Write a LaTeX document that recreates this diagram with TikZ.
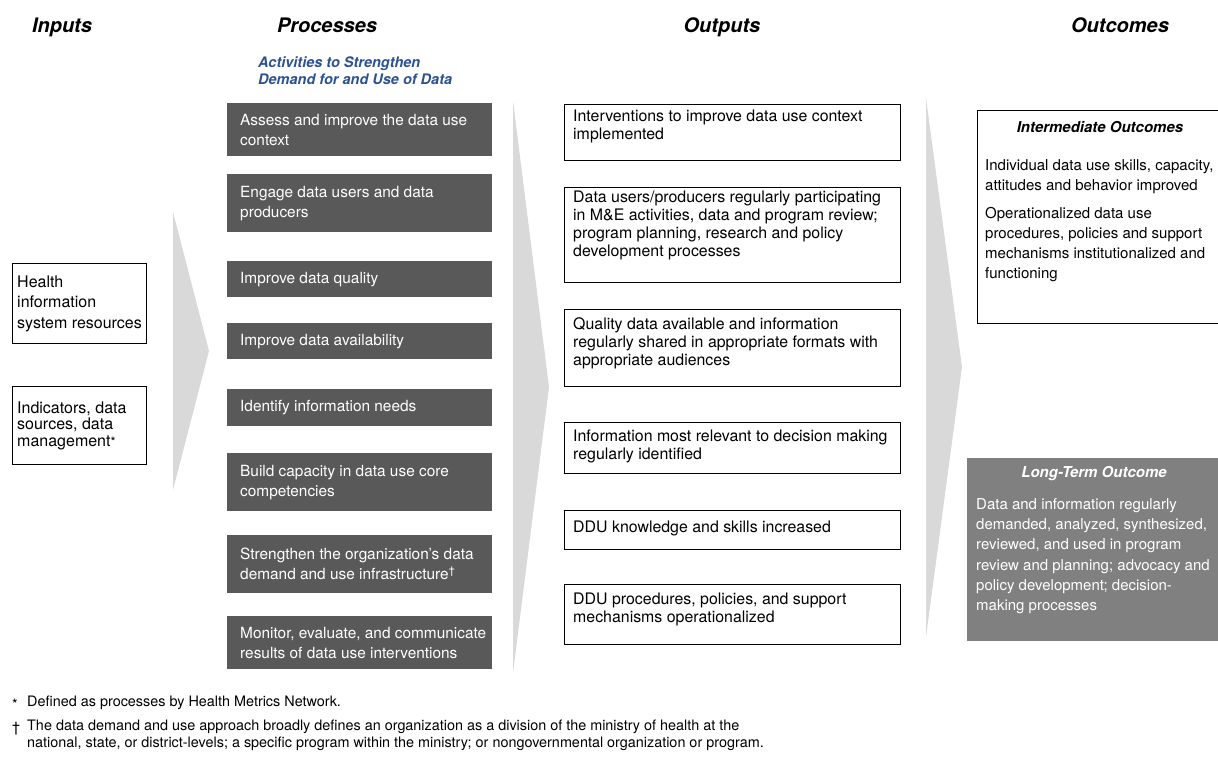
\documentclass[tikz,border=0pt]{standalone}
\usepackage{fontspec}
\setmainfont{TeX Gyre Heros}
\definecolor{procgray}{RGB}{89,89,89}
\definecolor{chevgray}{RGB}{217,217,217}
\definecolor{longgray}{RGB}{128,128,128}
\definecolor{subblue}{RGB}{44,82,146}
\tikzset{
  heading/.style={anchor=base, inner sep=0pt, font=\fontsize{20}{23}\selectfont\bfseries\itshape},
  subtitle/.style={anchor=west, align=left, inner sep=0pt, text=subblue, font=\fontsize{14.5}{17}\selectfont\bfseries\itshape},
  procbox/.style={fill=procgray, anchor=north west, minimum width=265, inner sep=0pt},
  proctext/.style={anchor=west, align=left, inner sep=0pt, text=white, font=\fontsize{15.4}{20}\selectfont},
  outbox/.style={draw, line width=1pt, anchor=north west, minimum width=336, inner sep=0pt},
  outtext/.style={anchor=west, align=left, inner sep=0pt, font=\fontsize{15.9}{18}\selectfont},
  octitle/.style={inner sep=0pt, font=\fontsize{15}{18}\selectfont\bfseries\itshape},
  octext/.style={anchor=west, align=left, inner sep=0pt, font=\fontsize{15}{20.3}\selectfont},
  foot/.style={anchor=west, align=left, inner sep=0pt, font=\fontsize{14.4}{17}\selectfont}
}
\begin{document}
\begin{tikzpicture}[x=1pt, y=-1pt]
\useasboundingbox (0,0) rectangle (1218,757);
\clip (0,0) rectangle (1218,757);

% column headings
\node[heading] (hin) at (62,33) {Inputs};
\node[heading] (hproc) at (327,33) {Processes};
\node[heading] (hout) at (722,33) {Outputs};
\node[heading] (hoc) at (1120,33) {Outcomes};
\node[subtitle] (acts) at (258,71) {Activities to Strengthen\\Demand for and Use of Data};

% big arrows between the columns
\fill[chevgray] (173,212) -- (209,351) -- (173,490) -- cycle;
\fill[chevgray] (513,101) -- (549,387) -- (513,673) -- cycle;
\fill[chevgray] (926,98) -- (962,367) -- (926,637) -- cycle;

% inputs
\node[outbox, minimum width=134, minimum height=80] (hisr) at (12,263) {};
\node[outtext, font=\fontsize{16}{20.5}\selectfont] (hisrtxt) at ([xshift=5pt]hisr.west) {Health\\information\\system resources};
\node[outbox, minimum width=134, minimum height=78] (ind) at (12,386) {};
\node[outtext, font=\fontsize{16}{16.5}\selectfont] (indtxt) at ([xshift=5pt]ind.west) {Indicators, data\\sources, data\\management{\fontsize{13}{13}\selectfont*}};

% processes
\foreach \ty/\hh/\txt [count=\i] in {
  103/53/{Assess and improve the data use\\context},
  174/58/{Engage data users and data\\producers},
  261/36/{Improve data quality},
  323/36/{Improve data availability},
  389/37/{Identify information needs},
  453/58/{Build capacity in data use core\\competencies},
  535/58/{Strengthen the organization's data\\demand and use infrastructure\textsuperscript{\textdagger}},
  616/53/{Monitor, evaluate, and communicate\\results of data use interventions}} {
  \node[procbox, minimum height=\hh] (proc\i) at (227,\ty) {};
  \node[proctext] (ptext\i) at ([xshift=13pt]proc\i.west) {\txt};
}

% outputs
\foreach \ty/\hh/\dy/\txt [count=\i] in {
  104/56/6/{Interventions to improve data use context\\implemented},
  187/95/9.5/{Data users/producers regularly participating\\in M\&E activities, data and program review;\\program planning, research and policy\\development processes},
  309/77/4.5/{Quality data available and information\\regularly shared in appropriate formats with\\appropriate audiences},
  422/51/1.5/{Information most relevant to decision making\\regularly identified},
  510/39/1.5/{DDU knowledge and skills increased},
  584/60/5/{DDU procedures, policies, and support\\mechanisms operationalized}} {
  \node[outbox, minimum height=\hh] (out\i) at (564,\ty) {};
  \node[outtext] (otext\i) at ([xshift=9pt,yshift=\dy]out\i.west) {\txt};
}

% outcomes
\node[outbox, minimum width=250, minimum height=213] (inter) at (977,110) {};
\node[octitle] (intertitle) at (1100,127) {Intermediate Outcomes};
\node[octext] (inter1) at (985,176.5) {Individual data use skills, capacity,\\attitudes and behavior improved};
\node[octext] (inter2) at (985,244.5) {Operationalized data use\\procedures, policies and support\\mechanisms institutionalized and\\functioning};

\node[fill=longgray, anchor=north west, minimum width=260, minimum height=183, inner sep=0pt] (longt) at (967,458) {};
\node[octitle, text=white] (longtitle) at (1094,474) {Long-Term Outcome};
\node[octext, text=white] (longtxt) at (976,556) {Data and information regularly\\demanded, analyzed, synthesized,\\reviewed, and used in program\\review and planning; advocacy and\\policy development; decision-\\making processes};

% footnotes
\node[foot] (fn1mark) at (12,704) {*};
\node[foot] (fn1) at (27,703) {Defined as processes by Health Metrics Network.};
\node[foot] (fn2mark) at (12,729) {\textdagger};
\node[foot] (fn2) at (27,735.5) {The data demand and use approach broadly defines an organization as a division of the ministry of health at the\\national, state, or district-levels; a specific program within the ministry; or nongovernmental organization or program.};
\end{tikzpicture}
\end{document}
